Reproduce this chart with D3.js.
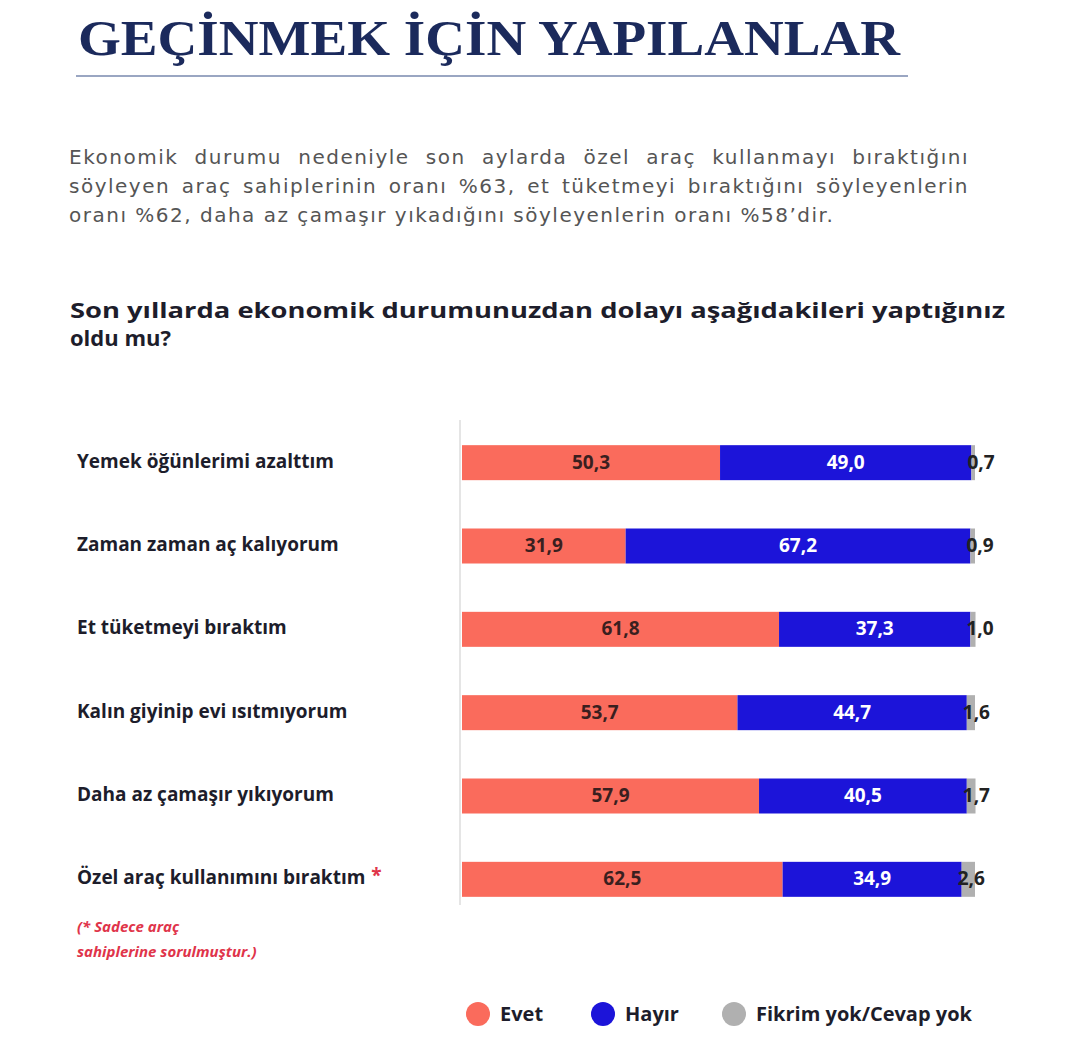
<!DOCTYPE html>
<html><head><meta charset="utf-8">
<script src="https://cdn.jsdelivr.net/npm/d3@7"></script>
<style>body{margin:0;background:#fff;font-family:"Open Sans",Lato,sans-serif}</style>
</head><body>
<svg id="c" width="1080" height="1060"></svg>
<script>
const categories = ["Yemek öğünlerimi azalttım", "Zaman zaman aç kalıyorum", "Et tüketmeyi bıraktım",
  "Kalın giyinip evi ısıtmıyorum", "Daha az çamaşır yıkıyorum", "Özel araç kullanımını bıraktım"];
const evet = [50.3, 31.9, 61.8, 53.7, 57.9, 62.5];
const hayir = [49.0, 67.2, 37.3, 44.7, 40.5, 34.9];
const fikrim = [0.7, 0.9, 1.0, 1.6, 1.7, 2.6];
const seriesNames = ["Evet", "Hayır", "Fikrim yok/Cevap yok"];
const colors = ["#fa6b5c", "#1c14d9", "#b0b0b0"];

const svg = d3.select("#c");
const fmt = v => v.toFixed(1).replace(".", ",");

svg.append("text").attr("x", 78).attr("y", 55)
  .attr("font-family", "Liberation Serif, serif").attr("font-weight", "bold")
  .attr("font-size", 50).attr("fill", "#1b2a5c")
  .attr("textLength", 822).attr("lengthAdjust", "spacingAndGlyphs").text("GEÇİNMEK İÇİN YAPILANLAR");
svg.append("line").attr("x1", 76).attr("x2", 908).attr("y1", 76).attr("y2", 76)
  .attr("stroke", "#9aa6c2").attr("stroke-width", 2);

const para = ["Ekonomik durumu nedeniyle son aylarda özel araç kullanmayı bıraktığını",
  "söyleyen araç sahiplerinin oranı %63, et tüketmeyi bıraktığını söyleyenlerin",
  "oranı %62, daha az çamaşır yıkadığını söyleyenlerin oranı %58’dir."];
para.forEach((t, i) => {
  const el = svg.append("text").attr("x", 69).attr("y", 164 + i * 29)
    .attr("font-family", "DejaVu Sans, sans-serif").attr("letter-spacing", 1.5)
    .attr("font-size", 20).attr("fill", "#555").text(t);
  if (i < 2) {
    const w = el.node().getComputedTextLength();
    const gaps = t.split(" ").length - 1;
    el.attr("word-spacing", Math.max(0, (900 - w) / gaps));
  }
});

["Son yıllarda ekonomik durumunuzdan dolayı aşağıdakileri yaptığınız", "oldu mu?"].forEach((t, i) => {
  const el = svg.append("text").attr("x", 70).attr("y", 318 + i * 28).attr("font-size", 22)
    .attr("font-weight", "bold").attr("fill", "#1d1d2b").text(t);
  if (i === 0) el.attr("textLength", 935).attr("lengthAdjust", "spacingAndGlyphs");
});

const x = d3.scaleLinear().domain([0, 100]).range([462, 975]);
const y = d3.scaleBand().domain(categories).range([416, 926]).paddingInner(0.58).paddingOuter(0.35);

svg.append("line").attr("x1", 460).attr("x2", 460).attr("y1", 420).attr("y2", 905)
  .attr("stroke", "#ddd").attr("stroke-width", 1.5);

const data = categories.map((c, i) => ({c, vals: [evet[i], hayir[i], fikrim[i]]}));
const rows = svg.selectAll("g.row").data(data).join("g").attr("class", "row");

rows.append("text").attr("x", 77).attr("y", d => y(d.c) + y.bandwidth() / 2 + 5)
  .attr("font-size", 19).attr("font-weight", "bold").attr("fill", "#1d1d2b").text(d => d.c)
  .each(function(d, i) {
    if (i === 5) {
      const w = this.getComputedTextLength();
      svg.append("text").attr("x", 77 + w + 6).attr("y", y(d.c) + y.bandwidth() / 2 + 3)
        .attr("font-size", 19).attr("font-weight", "bold").attr("fill", "#e0344a").text("*");
    }
  });

rows.each(function(d) {
  const g = d3.select(this);
  let acc = 0;
  d.vals.forEach((v, k) => {
    const x0 = x(acc), x1 = x(acc + v);
    g.append("rect").attr("x", x0).attr("y", y(d.c)).attr("width", x1 - x0)
      .attr("height", y.bandwidth()).attr("fill", colors[k]);
    const t = g.append("text").attr("y", y(d.c) + y.bandwidth() / 2 + 6)
      .attr("font-size", 19).attr("font-weight", "bold").text(fmt(v));
    if (k === 2) t.attr("x", x0 - 4).attr("fill", "#222");
    else t.attr("x", (x0 + x1) / 2).attr("text-anchor", "middle").attr("fill", k === 0 ? "#3a1f1f" : "#fff");
    acc += v;
  });
});

svg.append("text").attr("x", 77).attr("y", 932).attr("font-size", 15).attr("font-style", "italic")
  .attr("font-weight", "bold").attr("fill", "#e0344a").text("(* Sadece araç");
svg.append("text").attr("x", 77).attr("y", 957).attr("font-size", 15).attr("font-style", "italic")
  .attr("font-weight", "bold").attr("fill", "#e0344a").text("sahiplerine sorulmuştur.)");

const lx = [478, 603, 734];
seriesNames.forEach((n, k) => {
  svg.append("circle").attr("cx", lx[k]).attr("cy", 1014).attr("r", 12).attr("fill", colors[k]);
  svg.append("text").attr("x", lx[k] + 22).attr("y", 1021).attr("font-size", 20)
    .attr("font-weight", "bold").attr("fill", "#1d1d2b").text(n);
});
</script>
</body></html>
